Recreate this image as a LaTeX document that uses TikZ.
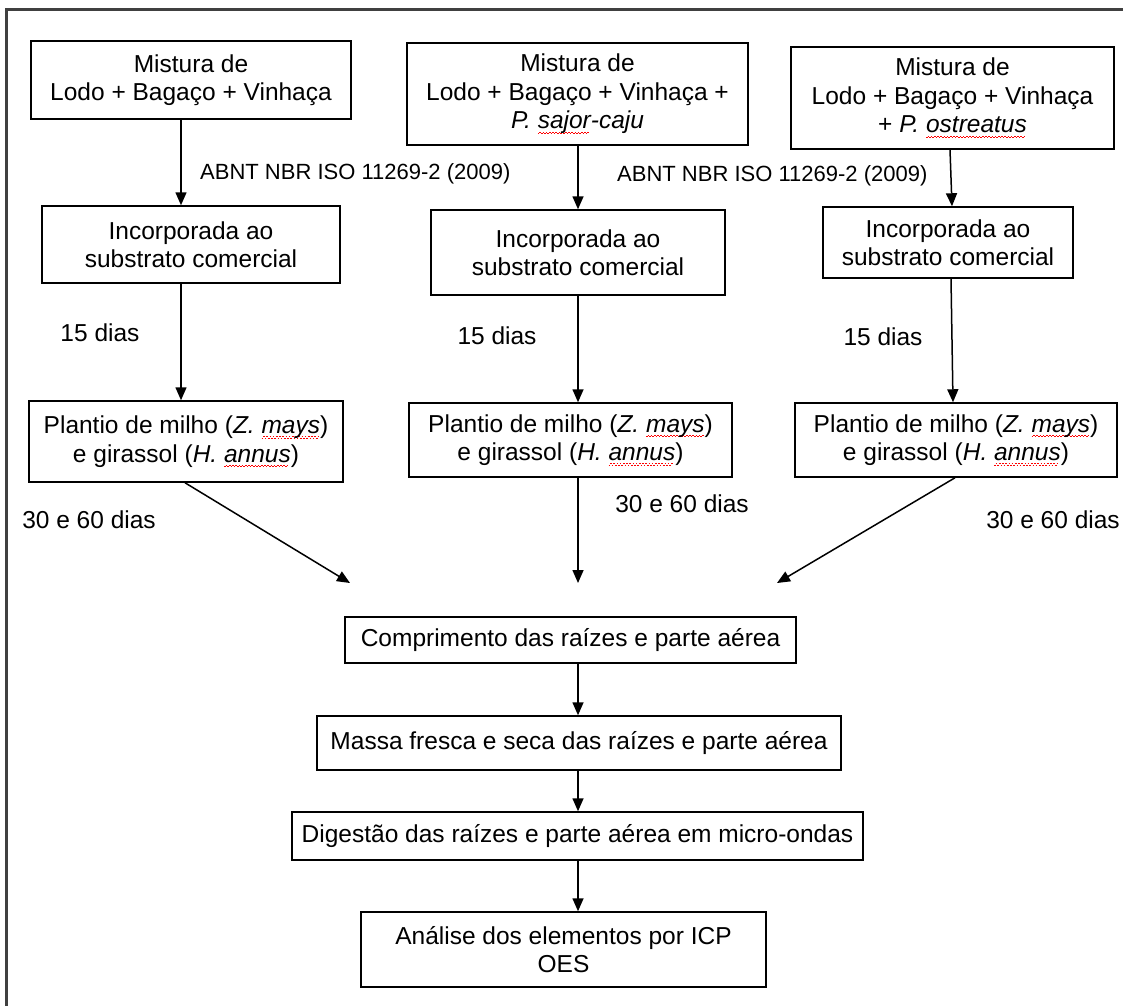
\documentclass[tikz,border=0pt]{standalone}
\usepackage{fontspec}
\setmainfont{Liberation Sans}
\usetikzlibrary{arrows.meta}
\newsavebox\splbox
\newcommand\spl[1]{\sbox\splbox{#1}\leavevmode\rlap{\color{red}\leaders\hbox{\rule[-5pt]{1.6pt}{0.9pt}\rule[-3.6pt]{1.6pt}{0.9pt}}\hskip\wd\splbox}\usebox\splbox}
\tikzset{
  box/.style={draw=black, line width=1.5pt, align=center, inner sep=0pt,
    font=\fontsize{24.5}{28.5}\selectfont},
  lbl/.style={inner sep=0pt, font=\fontsize{24.5}{28.5}\selectfont},
  abnt/.style={inner sep=0pt, font=\fontsize{22}{25}\selectfont},
  arr/.style={line width=1.5pt, -{Triangle[length=13pt,width=11pt]}}
}
\begin{document}
\begin{tikzpicture}[x=1pt,y=-1pt]
\useasboundingbox (0,0) rectangle (1123,1005);
\draw[line width=3pt, draw=black!75] (6,1010) -- (6,9) -- (1130,9);
% top row
\node[box, minimum width=320pt, minimum height=78pt] (A1) at (191,80) {Mistura de\\Lodo + Bagaço + Vinhaça};
\node[box, minimum width=341pt, minimum height=102pt] (A2) at (577.5,94) {Mistura de\\Lodo + Bagaço + Vinhaça +\\\textit{P. \spl{sajor}-caju}};
\node[box, minimum width=323pt, minimum height=102pt] (A3) at (952.5,98) {Mistura de\\Lodo + Bagaço + Vinhaça\\+ \textit{P. \spl{ostreatus}}};
% second row
\node[box, minimum width=298pt, minimum height=77pt] (B1) at (191,244.5) {Incorporada ao\\substrato comercial};
\node[box, minimum width=294pt, minimum height=85pt] (B2) at (578,252.5) {Incorporada ao\\substrato comercial};
\node[box, minimum width=250pt, minimum height=71pt] (B3) at (948,242.5) {Incorporada ao\\substrato comercial};
% third row
\node[box, minimum width=314pt, minimum height=81pt] (P1) at (186,441.5) {Plantio de milho (\textit{Z. \spl{mays}})\\e girassol (\textit{H. \spl{annus}})};
\node[box, minimum width=323pt, minimum height=74pt] (P2) at (570.5,440) {Plantio de milho (\textit{Z. \spl{mays}})\\e girassol (\textit{H. \spl{annus}})};
\node[box, minimum width=322pt, minimum height=74pt] (P3) at (956,440) {Plantio de milho (\textit{Z. \spl{mays}})\\e girassol (\textit{H. \spl{annus}})};
% bottom chain
\node[box, minimum width=451pt, minimum height=46pt] (C1) at (570.5,640) {Comprimento das raízes e parte aérea};
\node[box, minimum width=524pt, minimum height=54pt] (C2) at (579,743) {Massa fresca e seca das raízes e parte aérea};
\node[box, minimum width=571pt, minimum height=48pt] (C3) at (577.5,836) {Digestão das raízes e parte aérea em micro-ondas};
\node[box, minimum width=405pt, minimum height=75pt] (C4) at (563.5,949.5) {Análise dos elementos por ICP\\OES};
% labels
\node[abnt, anchor=west] (L1) at (200,174) {ABNT NBR ISO 11269-2 (2009)};
\node[abnt, anchor=west] (L2) at (617,176) {ABNT NBR ISO 11269-2 (2009)};
\node[lbl] (D1) at (100,333) {15 dias};
\node[lbl] (D2) at (497,336) {15 dias};
\node[lbl] (D3) at (883,337) {15 dias};
\node[lbl] (E1) at (89,520) {30 e 60 dias};
\node[lbl] (E2) at (682,504) {30 e 60 dias};
\node[lbl] (E3) at (1053,520) {30 e 60 dias};
% free ends
\coordinate (T1) at (350,583);
\coordinate (T2) at (578,583);
\coordinate (T3) at (777,583);
% connectors
\draw[arr] (A1.south -| 181,0) -- (B1.north -| 181,0);
\draw[arr] (A2.south -| 578,0) -- (B2.north -| 578,0);
\draw[arr] (A3.south -| 950,0) -- (B3.north -| 952,0);
\draw[arr] (B1.south -| 181,0) -- (P1.north -| 181,0);
\draw[arr] (B2.south -| 578,0) -- (P2.north -| 578,0);
\draw[arr] (B3.south -| 951,0) -- (P3.north -| 953,0);
\draw[arr] (P1.south -| 185,0) -- (T1);
\draw[arr] (P2.south -| 578,0) -- (T2);
\draw[arr] (P3.south -| 955,0) -- (T3);
\draw[arr] (C1.south -| 578,0) -- (C2.north -| 578,0);
\draw[arr] (C2.south -| 578,0) -- (C3.north -| 578,0);
\draw[arr] (C3.south -| 578,0) -- (C4.north -| 578,0);
\end{tikzpicture}
\end{document}
